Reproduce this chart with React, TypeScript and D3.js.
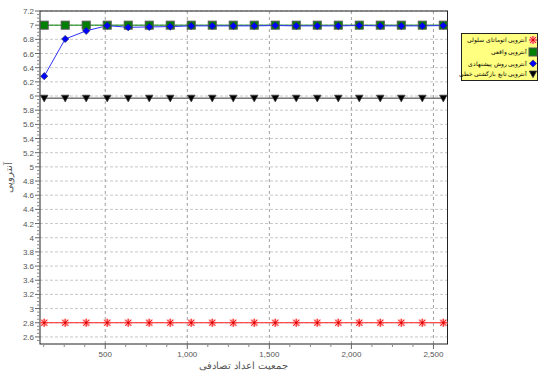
import React from "react";
import * as d3 from "d3";

const populations = [128, 256, 384, 512, 640, 768, 896, 1024, 1152, 1280, 1408, 1536, 1664, 1792, 1920, 2048, 2176, 2304, 2432, 2560];
const cellularAutomata = [2.8, 2.8, 2.8, 2.8, 2.8, 2.8, 2.8, 2.8, 2.8, 2.8, 2.8, 2.8, 2.8, 2.8, 2.8, 2.8, 2.8, 2.8, 2.8, 2.8];
const realEntropy = [7, 7, 7, 7, 7, 7, 7, 7, 7, 7, 7, 7, 7, 7, 7, 7, 7, 7, 7, 7];
const proposed = [6.28, 6.805, 6.92, 6.993, 6.97, 6.975, 6.98, 6.99, 6.99, 6.99, 6.99, 6.995, 6.99, 6.99, 6.99, 6.995, 6.99, 6.99, 6.99, 6.995];
const linearRecursive = [5.97, 5.97, 5.97, 5.97, 5.97, 5.97, 5.97, 5.97, 5.97, 5.97, 5.97, 5.97, 5.97, 5.97, 5.97, 5.97, 5.97, 5.97, 5.97, 5.97];
const legendLabels = ["آنتروپی اتوماتای سلولی", "آنتروپی واقعی", "آنتروپی روش پیشنهادی", "آنتروپی تابع بازگشتی خطی"];
const xTicks = [500, 1000, 1500, 2000, 2500];
const yTicks = d3.range(2.6, 7.21, 0.2).map((v) => Math.round(v * 10) / 10);
const xTitle = "جمعیت اعداد تصادفی";
const yTitle = "آنتروپی";

const L = 40, R = 447.5, T = 11, B = 344;
const font = "'Liberation Sans', Arial, sans-serif";

function Asterisk({ x, y }: { x: number; y: number }) {
  const r = 4;
  const d = `M${x - r},${y}L${x + r},${y}M${x},${y - r}L${x},${y + r}M${x - r * 0.75},${y - r * 0.75}L${x + r * 0.75},${y + r * 0.75}M${x - r * 0.75},${y + r * 0.75}L${x + r * 0.75},${y - r * 0.75}`;
  return (
    <g>
      <path d={d} stroke="#ffb0b0" strokeWidth={2.2} fill="none" />
      <path d={d} stroke="#ff2020" strokeWidth={1} fill="none" />
      <rect x={x - 1} y={y - 1} width={2} height={2} fill="#d00000" />
    </g>
  );
}
function Square({ x, y }: { x: number; y: number }) {
  return <rect x={x - 4} y={y - 4} width={8} height={8} fill="#008000" stroke="#555" strokeWidth={1} />;
}
function Diamond({ x, y }: { x: number; y: number }) {
  const r = 3.6;
  return <path d={`M${x},${y - r}L${x + r},${y}L${x},${y + r}L${x - r},${y}Z`} fill="#0000ff" stroke="#203060" strokeWidth={0.7} />;
}
function Tri({ x, y }: { x: number; y: number }) {
  return <path d={`M${x - 3.8},${y - 3}L${x + 3.8},${y - 3}L${x},${y + 3.8}Z`} fill="#000" stroke="#444" strokeWidth={0.7} />;
}

export default function App() {
  const x = d3.scaleLinear().domain([102.4, 2585.6]).range([L, R]);
  const y = d3.scaleLinear().domain([2.5, 7.2]).range([B, T]);
  const line = (vals: number[]) =>
    d3.line<number>().x((_, i) => x(populations[i])).y((v) => y(v))(vals) as string;
  const minorX = d3.range(125, 2580, 125).filter((v) => v % 500 !== 0);
  const minorY = d3.range(2.55, 7.2, 0.05).map((v) => Math.round(v * 100) / 100);
  const fmt = d3.format(",");
  const legendY = [40, 52, 63.5, 74];
  const legendMarkers = [Asterisk, Square, Diamond, Tri];

  return (
    <svg width={538} height={374} style={{ position: "absolute", left: 0, top: 0, background: "#fff" }}>
      <rect x={L} y={T} width={R - L} height={B - T} fill="#fff" />
      {yTicks.map((t) => (
        <line key={"gy" + t} x1={L} x2={R} y1={y(t)} y2={y(t)} stroke="#c8c8c8" strokeDasharray="3,2" strokeWidth={1} />
      ))}
      {xTicks.map((t) => (
        <line key={"gx" + t} x1={x(t)} x2={x(t)} y1={T} y2={B} stroke="#a0a0a0" strokeDasharray="3,3" strokeWidth={1} />
      ))}
      <rect x={L} y={T} width={R - L} height={B - T} fill="none" stroke="#222" strokeWidth={1} />
      {yTicks.map((t) => (
        <g key={"ty" + t}>
          <line x1={L - 5} x2={L} y1={y(t)} y2={y(t)} stroke="#666" />
          <text x={L - 6} y={y(t) + 3} fontSize={8} fontFamily={font} fill="#555" textAnchor="end">
            {t}
          </text>
        </g>
      ))}
      {minorY.filter((v) => Math.abs((v * 10) % 2) > 0.01 && Math.abs((v * 10) % 2 - 2) > 0.01).map((v) => (
        <line key={"my" + v} x1={L - 3} x2={L} y1={y(v)} y2={y(v)} stroke="#888" />
      ))}
      {xTicks.map((t) => (
        <g key={"tx" + t}>
          <line x1={x(t)} x2={x(t)} y1={B} y2={B + 5} stroke="#666" />
          <text x={x(t)} y={B + 13} fontSize={8} fontFamily={font} fill="#555" textAnchor="middle">
            {fmt(t)}
          </text>
        </g>
      ))}
      {minorX.map((v) => (
        <line key={"mx" + v} x1={x(v)} x2={x(v)} y1={B} y2={B + 3} stroke="#888" />
      ))}
      <path d={line(cellularAutomata)} stroke="#ff2020" strokeWidth={1} fill="none" />
      <path d={line(linearRecursive)} stroke="#333" strokeWidth={1} fill="none" />
      <path d={line(realEntropy)} stroke="#008000" strokeWidth={1} fill="none" />
      <path d={line(proposed)} stroke="#3030ff" strokeWidth={1} fill="none" />
      {cellularAutomata.map((v, i) => <Asterisk key={"a" + i} x={x(populations[i])} y={y(v)} />)}
      {linearRecursive.map((v, i) => <Tri key={"t" + i} x={x(populations[i])} y={y(v)} />)}
      {realEntropy.map((v, i) => <Square key={"s" + i} x={x(populations[i])} y={y(v)} />)}
      {proposed.map((v, i) => <Diamond key={"d" + i} x={x(populations[i])} y={y(v)} />)}
      <text x={(L + R) / 2} y={369} fontSize={10} fontFamily={font} fill="#555" textAnchor="middle" direction="rtl">
        {xTitle}
      </text>
      <text transform={`translate(12,${(T + B) / 2}) rotate(-90)`} fontSize={10} fontFamily={font} fill="#555" textAnchor="middle" direction="rtl">
        {yTitle}
      </text>
      <rect x={461.5} y={33.5} width={76} height={47} fill="#ffff80" stroke="#222" strokeWidth={1} />
      {legendLabels.map((lab, i) => {
        const M = legendMarkers[i];
        return (
          <g key={"lg" + i}>
            <M x={533} y={legendY[i]} />
            <g transform={`translate(527.5,${legendY[i] + 2.4}) scale(0.5)`}>
              <text x={0} y={0} fontSize={11} fontFamily={font} fill="#000" textAnchor="start" direction="rtl">
                {lab}
              </text>
            </g>
          </g>
        );
      })}
    </svg>
  );
}
